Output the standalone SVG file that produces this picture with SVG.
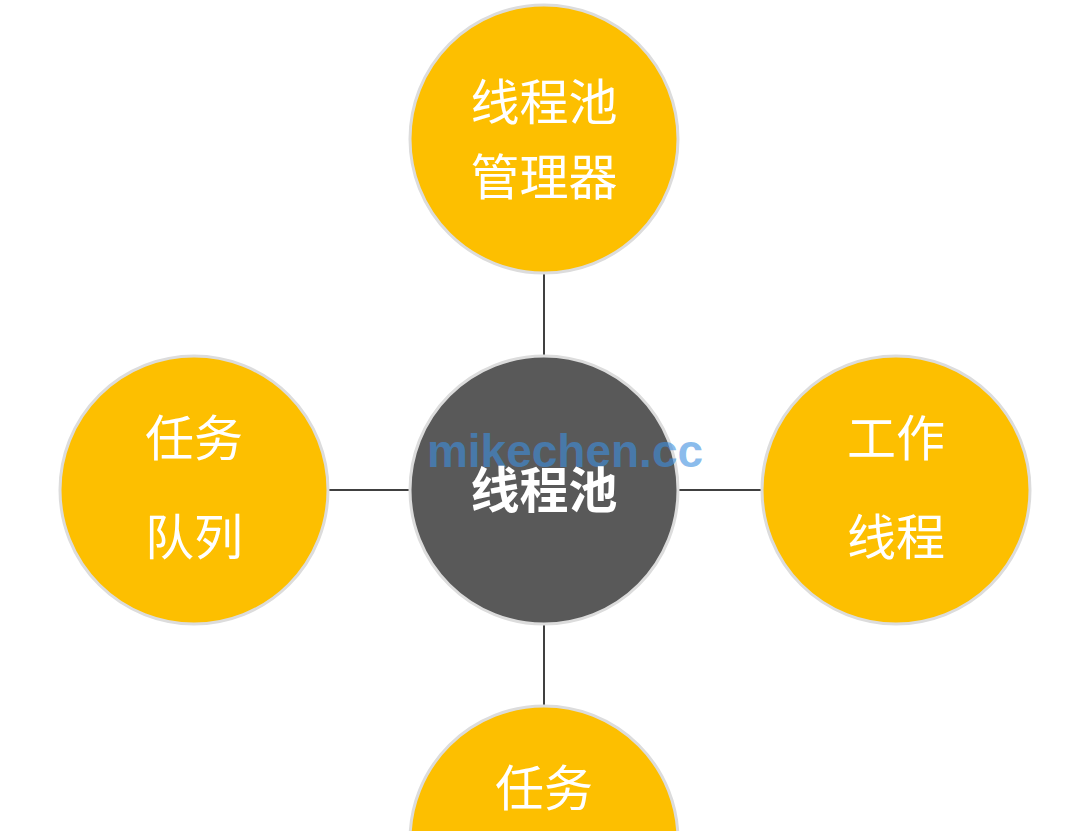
<svg xmlns="http://www.w3.org/2000/svg" width="1088" height="831" viewBox="0 0 1088 831">
<style>
.node{fill:#FDBF00;stroke:#dcdcdc;stroke-width:3}
.hub{fill:#595959;stroke:#dcdcdc;stroke-width:3}
.lbl{font-family:"Noto Sans CJK SC","Microsoft YaHei",sans-serif;font-size:49px;fill:#ffffff;text-anchor:middle}
.hubl{font-weight:bold}
.conn{stroke:#404040;stroke-width:2;fill:none}
.wm{font-family:"Liberation Sans",Arial,sans-serif;font-weight:bold;font-size:46px;fill:#3d8fe0;fill-opacity:0.6;text-anchor:middle}
</style>
<rect width="1088" height="831" fill="#ffffff"/>
<g id="connectors">
<line class="conn" x1="544" y1="272" x2="544" y2="356"/>
<line class="conn" x1="328" y1="490" x2="410" y2="490"/>
<line class="conn" x1="678" y1="490" x2="762" y2="490"/>
<line class="conn" x1="544" y1="624" x2="544" y2="706"/>
</g>
<g id="manager">
<circle class="node" cx="544" cy="139" r="134"/>
<text class="lbl" x="544" y="120">线程池</text>
<text class="lbl" x="544" y="195">管理器</text>
</g>
<g id="queue">
<circle class="node" cx="194" cy="490" r="134"/>
<text class="lbl" x="194" y="456">任务</text>
<text class="lbl" x="194" y="555">队列</text>
</g>
<g id="worker">
<circle class="node" cx="896" cy="490" r="134"/>
<text class="lbl" x="896" y="456">工作</text>
<text class="lbl" x="896" y="555">线程</text>
</g>
<g id="task">
<circle class="node" cx="544" cy="840" r="134"/>
<text class="lbl" x="544" y="806">任务</text>
</g>
<g id="pool">
<circle class="hub" cx="544" cy="490" r="134"/>
<text class="wm" x="565" y="467">mikechen.cc</text>
<text class="lbl hubl" x="544" y="508">线程池</text>
</g>
</svg>
